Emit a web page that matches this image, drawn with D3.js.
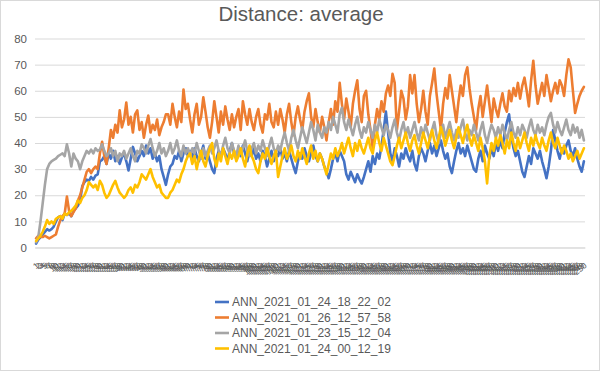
<!DOCTYPE html>
<html><head><meta charset="utf-8">
<script src="https://cdn.jsdelivr.net/npm/d3@7"></script>
<style>body{margin:0;background:#fff}svg{display:block}</style>
</head><body>
<script>
const seriesNames = ["ANN_2021_01_24_18_22_02","ANN_2021_01_26_12_57_58","ANN_2021_01_23_15_12_04","ANN_2021_01_24_00_12_19"];
const seriesColors = ["#4472C4","#ED7D31","#A5A5A5","#FFC000"];
const yTicks = [0,10,20,30,40,50,60,70,80];

const blueValues = [
1.5,3,4,5,6,7,6.5,7,8,10,
11.5,12,10.5,13,12.5,13,12,14,15,16,
18,23.5,25,26,25.5,27,26,27.5,28,33,
33.5,35,32,36,34,37,33,35,32,34.5,
36,33,29.5,34,38.5,36,33,35,37,35,
39,36,38,34,36,33,35,30,27,24,
28,31,32,35,34,37,33,36,38,35,
37,34,38,35,33,36,39,34,36,33,
30,28.5,34,37,35,38,36,33,37,40,
36,34,38,35,39,36,33,37,35,38,
34,36,33,37,35,31,34,37,33,36,
35,38,34,36,33,37,34,31,28.5,33,
36,34,38,35,33,36,39,35,33,36,
34,31,29,26.5,30,34,36,33,37,35,
33,28,26,29,27,25,28,26,24.5,27,
30,33,29,35,32,36,34,39,45,52,
44,36,33,38,35,31,36,34,38,35,
33,37,32,29.5,35,38,36,33,37,40,
36,39,35,38,41,37,34,36,31,28.5,
33,37,40,36,38,35,39,36,33,30,
29,34,37,33,39,36,34,38,35,40,
37,41,38,44,48,51,43,38,35,37,
33,29,27,31,35,32,38,36,34,37,
33,30,26.5,31,37,45,41,37,34,38,
36,39,41,37,35,38,34,31,29,33];

const orangeValues = [
3.5,4.5,4,4,4.5,4,3.5,4,4.5,5,
8,10.5,12,13,19.5,14,12,13.5,15,18,
20,23,26,29,30,28.5,30,31,30,36,
40.5,35,32,38,45,42,47,44,52.5,46,
49,55.5,47,50,44,51,52.5,45,48,42,
47,50.5,44,47,45,49,43,46,48,51,
51,47,55,50,46,52,48,60.5,53,55,
49,44,51,55,47,50,57.5,52,46,42,
48,56,50,44,52,47,54,49,45,51,
46,50,53,45,56,51,47,53,48,45,
50,53,47,44,51,49,55,48,46,52,
47,53,49,44,51,55,48,43,50,54,
49,45,52,56,59,50,46,53,48,44,
50,46,41,48,53,47,56,52,63,55,
49,57,52,46,55,60,64,53,48,58,
60,51,45,38,47,53,49,56,52,59,
62,58,66.5,63,45,52,60,57,49,54,
66,59,66,55,48,53,60,52,47,58,
63,68.5,59,52,45,55,61,57,66,60,
54,48,56,62,58,66,69,61,55,50,
45,53,58,50,56,62,55,48,57,53,
50,55,59,54,52,60,56,61,58,63,
57,62,65,60,54,64,71.5,62,55,59,
63,58,66,61,56,60,63,59,64,62,
58,66,72,69,60,51.5,55,58,60,61.5];

const grayValues = [
2,4,10,17,24,30,32,33,33.5,34,
35,35.5,36,35,39.5,36,31,36,34,33,
30,33,35,37,36,37.5,36,38,37,37.5,
39.5,37,35,36,38,35,37,33,36,35,
37,34,36,38,35,33,37,36,39.5,38,
36,39,41.5,38,35,37,40,36,38,35,
37,40,36,38,41,37,35,39,36,38,
35,38,36,40,37,34,38,35,37,39,
36,38,41,37,35,39,42,38,36,40,
37,35,39,36,38,41,37,35,38,40,
36,39,37,41,38,35,39,42,38,36,
39,37,41,44,40,37,42,45,41,38,
42,46,43,40,44,48,45,41,47,44,
42,46,44,48,45,50,47,44,51,53.5,
48,45,49,46,43,47,50,45,42,46,
44,48,45,42,47,44,49,46,43,47,
45,42,46,49,44,41,45,48,43,46,
42,45,48,44,41,46,43,47,44,41,
45,48,43,40,44,47,42,45,48,44,
41,45,42,46,49,44,41,45,43,47,
44,41,45,48,43,40,44,47,45,42,
46,43,47,44,41,45,48,44,42,46,
43,47,45,42,46,49,45,43,47,44,
46,43,47,50,51.5,47,44,48,45,43,
46,49,45,43,47,44,46,42,45,41];

const yellowValues = [
2.5,3.5,4.5,6,8,10.5,9,10,9,11,
11.5,12,11,13,12.5,13.5,14,15,16,18,
17,19,20,22,25,24,23,24,22,25.5,
24,21,19,20,22,24,25.5,23,21,20,
19,20,22,23,21,24,23,25,28,27,
26,28,30,27,25,23,24,21,20,19,
19,21,22,24,26,25,28,30,33,35,
36,32,35,30,34,37,33,31,35,38,
40,34,31,36,33,38,35,32,36,34,
37,33,35,38,34,31,36,39,35,33,
30,28.5,33,36,34,38,35,32,35,37,
27,31,35,38,34,36,39,35,33,37,
34,38,35,32,36,39,34,37,33,36,
34,31,28,32,36,34,38,35,37,40,
36,39,42,38,35,40,37,41,38,36,
39,42,38,36,41,44,40,37,42,39,
36,33,31.5,35,39,42,38,41,44,40,
37,41,43,39,36,40,44,41,38,42,
45,41,38,42,46,43,39,42,45,41,
38,42,46,43,40,44,47,42,39,43,
40,37,42,38,33,24.5,35,40,37,42,
39,43,40,36,41,38,44,40,37,42,
38,41,44,40,37,42,39,43,40,38,
42,39,37,41,44,40,38,42,39,36,
39,37,34,36,33,35,37,34,36,38];

const categories = blueValues.map((_, i) => String(i + 1));
const allSeries = [blueValues, orangeValues, grayValues, yellowValues];

const W = 600, H = 371;
const plot = {left: 35, right: 585, top: 38.5, bottom: 247.5};

const svg = d3.select("body").append("svg").attr("width", W).attr("height", H)
  .style("font-family", "'Liberation Sans', Arial, sans-serif");

svg.append("rect").attr("x", 0.5).attr("y", 0.5).attr("width", W - 1).attr("height", H - 1)
  .attr("fill", "#fff").attr("stroke", "#d9d9d9");

const x = d3.scalePoint().domain(categories).range([plot.left, plot.right]).padding(0.5);
const y = d3.scaleLinear().domain([0, 80]).range([plot.bottom, plot.top]);

// gridlines + y labels
const yAxis = d3.axisLeft(y).tickValues(yTicks).tickSize(-(plot.right - plot.left)).tickPadding(8);
const gy = svg.append("g").attr("transform", `translate(${plot.left},0)`).call(yAxis);
gy.select(".domain").remove();
gy.selectAll(".tick line").attr("stroke", "#d9d9d9").attr("stroke-width", 1);
gy.selectAll(".tick text").attr("fill", "#595959").attr("font-size", 11.5)
  .attr("font-family", "'Liberation Sans', Arial, sans-serif");

// x axis labels
const xAxis = d3.axisBottom(x).tickSize(0).tickPadding(0);
const gx = svg.append("g").attr("transform", `translate(0,${plot.bottom})`).call(xAxis);
gx.select(".domain").attr("stroke", "#d9d9d9");
gx.selectAll(".tick text")
  .attr("fill", "#595959").attr("font-size", 8.5)
  .attr("font-family", "'Liberation Sans', Arial, sans-serif")
  .attr("text-anchor", "end")
  .attr("dy", null)
  .attr("transform", "translate(3,19) rotate(-40)");

// lines
const line = d3.line().x((d, i) => x(categories[i])).y(d => y(d)).curve(d3.curveLinear);
allSeries.forEach((vals, si) => {
  svg.append("path").datum(vals).attr("d", line)
    .attr("fill", "none").attr("stroke", seriesColors[si])
    .attr("stroke-width", 2.6).attr("stroke-linejoin", "round").attr("stroke-linecap", "round");
});

// title
svg.append("text").attr("x", 301).attr("y", 20.5).attr("text-anchor", "middle")
  .attr("fill", "#595959").attr("font-size", 20.5).text("Distance: average");

// legend
const lg = svg.append("g").attr("transform", "translate(215,0)");
seriesNames.forEach((name, i) => {
  const yy = 302 + i * 15.5;
  lg.append("line").attr("x1", 0).attr("x2", 14).attr("y1", yy).attr("y2", yy)
    .attr("stroke", seriesColors[i]).attr("stroke-width", 2.6);
  lg.append("text").attr("x", 17).attr("y", yy + 4.2).attr("fill", "#595959")
    .attr("font-size", 12).text(name);
});
</script>
</body></html>
